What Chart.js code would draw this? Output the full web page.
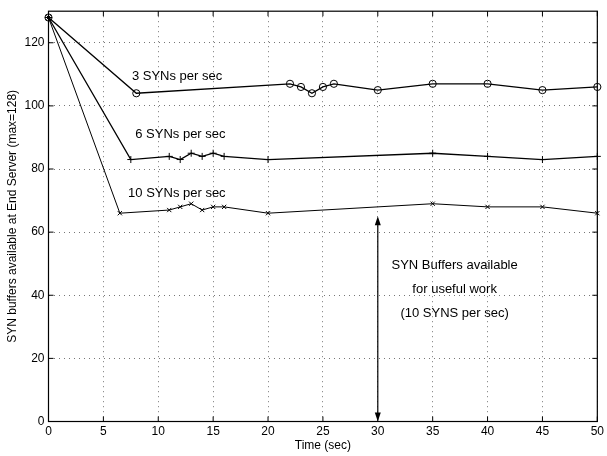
<!DOCTYPE html>
<html>
<head>
<meta charset="utf-8">
<script src="https://cdn.jsdelivr.net/npm/chart.js@4/dist/chart.umd.min.js"></script>
<style>
  html, body { margin: 0; padding: 0; background: #fff; }
  #wrap { width: 607px; height: 456px; }
</style>
</head>
<body>
<div id="wrap"><canvas id="synChart" width="607" height="456"></canvas></div>
<script>
// === Дані ===
const syn3Time    = [0, 8, 22, 23, 24, 25, 26, 30, 35, 40, 45, 50];
const syn3Buffers = [128, 104, 107, 106, 104, 106, 107, 105, 107, 107, 105, 106];

const syn6Time    = [0, 7.5, 11, 12, 13, 14, 15, 16, 20, 35, 40, 45, 50];
const syn6Buffers = [128, 83, 84, 83, 85, 84, 85, 84, 83, 85, 84, 83, 84];

const syn10Time    = [0, 6.5, 11, 12, 13, 14, 15, 16, 20, 35, 40, 45, 50];
const syn10Buffers = [128, 66, 67, 68, 69, 67, 68, 68, 66, 69, 68, 68, 66];

const xTicks = [0, 5, 10, 15, 20, 25, 30, 35, 40, 45, 50];
const yTicks = [0, 20, 40, 60, 80, 100, 120];

const FONT = '"Liberation Sans", Helvetica, Arial, sans-serif';

function toPoints(xs, ys) {
    return xs.map((x, i) => ({ x: x, y: ys[i] }));
}

// рамка, внутрішні засічки, підписи та стрілка
const decorPlugin = {
    id: 'decor',
    afterDraw(chart) {
        const ctx = chart.ctx;
        const area = chart.chartArea;
        const xs = chart.scales.x;
        const ys = chart.scales.y;
        const tick = 5;

        ctx.save();
        ctx.strokeStyle = '#000';
        ctx.lineWidth = 1.2;
        ctx.strokeRect(area.left, area.top, area.right - area.left, area.bottom - area.top);

        ctx.lineWidth = 1;
        ctx.beginPath();
        xTicks.forEach(v => {
            const px = xs.getPixelForValue(v);
            ctx.moveTo(px, area.bottom); ctx.lineTo(px, area.bottom - tick);
            ctx.moveTo(px, area.top); ctx.lineTo(px, area.top + tick);
        });
        yTicks.forEach(v => {
            const py = ys.getPixelForValue(v);
            ctx.moveTo(area.left, py); ctx.lineTo(area.left + tick, py);
            ctx.moveTo(area.right, py); ctx.lineTo(area.right - tick, py);
        });
        ctx.stroke();

        // підписи серій
        ctx.fillStyle = '#000';
        ctx.font = '13px ' + FONT;
        ctx.textBaseline = 'middle';
        ctx.textAlign = 'left';
        ctx.fillText('3 SYNs per sec', xs.getPixelForValue(7.6), ys.getPixelForValue(109.4));
        ctx.fillText('6 SYNs per sec', xs.getPixelForValue(7.9), ys.getPixelForValue(90.9));
        ctx.fillText('10 SYNs per sec', xs.getPixelForValue(7.25), ys.getPixelForValue(72.3));

        ctx.font = '13px ' + FONT;
        ctx.textAlign = 'center';
        const cx = xs.getPixelForValue(37);
        ctx.fillText('SYN Buffers available', cx, ys.getPixelForValue(49.3));
        ctx.fillText('for useful work', cx, ys.getPixelForValue(41.7));
        ctx.fillText('(10 SYNS per sec)', cx, ys.getPixelForValue(34.2));

        // двостороння стрілка
        const ax = xs.getPixelForValue(30);
        const yTop = ys.getPixelForValue(65);
        const yBot = ys.getPixelForValue(0);
        ctx.lineWidth = 1.2;
        ctx.beginPath();
        ctx.moveTo(ax, yTop + 8);
        ctx.lineTo(ax, yBot - 8);
        ctx.stroke();
        ctx.beginPath();
        ctx.moveTo(ax, yTop); ctx.lineTo(ax - 3, yTop + 9); ctx.lineTo(ax + 3, yTop + 9); ctx.closePath();
        ctx.moveTo(ax, yBot); ctx.lineTo(ax - 3, yBot - 9); ctx.lineTo(ax + 3, yBot - 9); ctx.closePath();
        ctx.fill();
        ctx.restore();
    }
};

const ctx = document.getElementById('synChart').getContext('2d');
new Chart(ctx, {
    type: 'line',
    data: {
        datasets: [
            {
                label: '3 SYNs per sec',
                data: toPoints(syn3Time, syn3Buffers),
                borderColor: '#000',
                borderWidth: 1.3,
                pointStyle: 'circle',
                pointRadius: 3.6,
                pointBorderWidth: 1,
                pointBorderColor: '#000',
                pointBackgroundColor: 'rgba(0,0,0,0)',
                tension: 0,
                clip: false
            },
            {
                label: '6 SYNs per sec',
                data: toPoints(syn6Time, syn6Buffers),
                borderColor: '#000',
                borderWidth: 1.3,
                pointStyle: 'cross',
                pointRadius: 3.5,
                pointBorderWidth: 1,
                pointBorderColor: '#000',
                tension: 0,
                clip: false
            },
            {
                label: '10 SYNs per sec',
                data: toPoints(syn10Time, syn10Buffers),
                borderColor: '#000',
                borderWidth: 1,
                pointStyle: 'crossRot',
                pointRadius: 3,
                pointBorderWidth: 1,
                pointBorderColor: '#000',
                tension: 0,
                clip: false
            }
        ]
    },
    options: {
        responsive: false,
        animation: false,
        layout: { padding: { left: 0, top: 9, right: 9, bottom: 0 } },
        plugins: {
            legend: { display: false },
            tooltip: { enabled: false }
        },
        scales: {
            x: {
                type: 'linear',
                min: 0,
                max: 50,
                afterFit(scale) { scale.height = 34.5; },
                afterBuildTicks(scale) { scale.ticks = xTicks.map(v => ({ value: v })); },
                ticks: { color: '#000', font: { family: FONT, size: 12 }, padding: 3, maxRotation: 0 },
                grid: { color: '#777', lineWidth: 1, drawTicks: false },
                border: { display: false, dash: [1, 4] },
                title: {
                    display: true,
                    text: 'Time (sec)',
                    color: '#000',
                    font: { family: FONT, size: 12 },
                    padding: { top: 0, bottom: 3 }
                }
            },
            y: {
                type: 'linear',
                min: 0,
                max: 130,
                afterFit(scale) { scale.width = 48.5; },
                afterBuildTicks(scale) { scale.ticks = yTicks.map(v => ({ value: v })); },
                ticks: { color: '#000', font: { family: FONT, size: 12 }, padding: 4 },
                grid: { color: '#777', lineWidth: 1, drawTicks: false },
                border: { display: false, dash: [1, 4] },
                title: {
                    display: true,
                    text: 'SYN buffers available at End Server (max=128)',
                    color: '#000',
                    font: { family: FONT, size: 12 },
                    padding: { top: 5, bottom: 0 }
                }
            }
        }
    },
    plugins: [decorPlugin]
});
</script>
</body>
</html>
